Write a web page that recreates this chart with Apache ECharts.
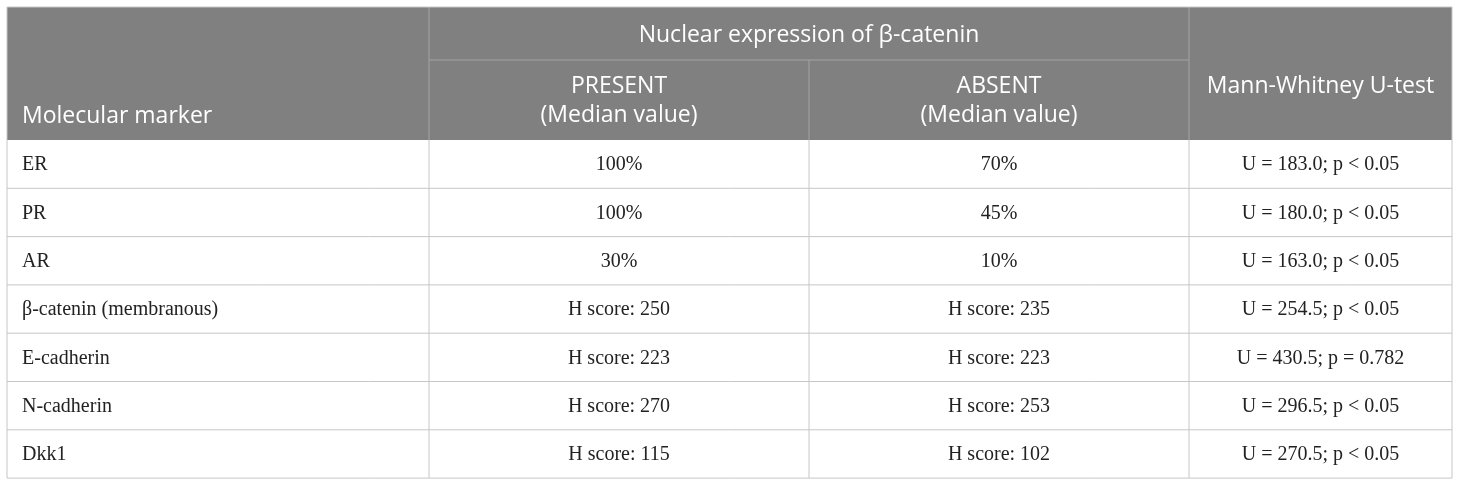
<!DOCTYPE html>
<html>
<head>
<meta charset="utf-8">
<script src="https://cdn.jsdelivr.net/npm/echarts@6/dist/echarts.min.js"></script>
<style>
  html, body { margin: 0; padding: 0; background: #fff; }
  #main { width: 1460px; height: 486px; }
</style>
</head>
<body>
<div id="main"></div>
<script>
// table content
var groupTitle = 'Nuclear expression of \u03b2-catenin';
var headers = ['Molecular marker', 'PRESENT\n(Median value)', 'ABSENT\n(Median value)', 'Mann-Whitney U-test'];
var markers = ['ER', 'PR', 'AR', '\u03b2-catenin (membranous)', 'E-cadherin', 'N-cadherin', 'Dkk1'];
var present = ['100%', '100%', '30%', 'H score: 250', 'H score: 223', 'H score: 270', 'H score: 115'];
var absent = ['70%', '45%', '10%', 'H score: 235', 'H score: 223', 'H score: 253', 'H score: 102'];
var utest = ['U = 183.0; p < 0.05', 'U = 180.0; p < 0.05', 'U = 163.0; p < 0.05', 'U = 254.5; p < 0.05',
  'U = 430.5; p = 0.782', 'U = 296.5; p < 0.05', 'U = 270.5; p < 0.05'];

// layout
var colX = [7, 429, 809, 1189, 1452];
var top0 = 7, head1 = 60, headEnd = 140, rowH = 48.3;
var headFill = '#808080', headLine = '#a3a3a3', bodyLine = '#c6c6c6';
var headFont = '"Open Sans", sans-serif', bodyFont = '"Liberation Serif", "Times New Roman", serif';
var headSize = 23, bodySize = 20;

var myChart = echarts.init(document.getElementById('main'));
var g = [];

// header background
g.push({ type: 'rect', shape: { x: colX[0], y: top0, width: colX[4] - colX[0], height: headEnd - top0 },
  style: { fill: headFill } });

function line(x1, y1, x2, y2, c) {
  g.push({ type: 'line', shape: { x1: x1, y1: y1, x2: x2, y2: y2 }, style: { stroke: c, lineWidth: 1 }, z: 5 });
}

// header lines
line(colX[1], top0, colX[1], headEnd, headLine);
line(colX[3], top0, colX[3], headEnd, headLine);
line(colX[2], head1, colX[2], headEnd, headLine);
line(colX[1], head1, colX[3], head1, headLine);

// header texts
g.push({ type: 'text', x: (colX[1] + colX[3]) / 2, y: (top0 + head1) / 2 + 2,
  style: { text: groupTitle, fill: '#fff', font: headSize + 'px ' + headFont, align: 'center', verticalAlign: 'middle' }, z: 6 });
g.push({ type: 'text', x: colX[0] + 15, y: 116,
  style: { text: headers[0], fill: '#fff', font: headSize + 'px ' + headFont, align: 'left', verticalAlign: 'middle' }, z: 6 });
for (var c = 1; c < 4; c++) {
  g.push({ type: 'text', x: (colX[c] + colX[c + 1]) / 2, y: 72,
    style: { text: headers[c], fill: '#fff', font: headSize + 'px ' + headFont, lineHeight: 29,
      align: 'center', verticalAlign: 'top' }, z: 6 });
}

// body
var bottom = headEnd + rowH * markers.length;
for (var r = 0; r < markers.length; r++) {
  var y0 = headEnd + rowH * r, ym = y0 + rowH / 2 + 1;
  if (r > 0) line(colX[0], y0, colX[4], y0, bodyLine);
  var cells = [markers[r], present[r], absent[r], utest[r]];
  for (var k = 0; k < 4; k++) {
    g.push({ type: 'text',
      x: k === 0 ? colX[0] + 15 : (colX[k] + colX[k + 1]) / 2, y: ym,
      style: { text: cells[k], fill: '#222', font: bodySize + 'px ' + bodyFont,
        align: k === 0 ? 'left' : 'center', verticalAlign: 'middle' }, z: 6 });
  }
}
for (var c2 = 1; c2 < 4; c2++) line(colX[c2], headEnd, colX[c2], bottom, bodyLine);
line(colX[0], top0, colX[0], bottom, bodyLine);
line(colX[4], top0, colX[4], bottom, bodyLine);
line(colX[0], bottom, colX[4], bottom, bodyLine);
line(colX[0], top0, colX[4], top0, bodyLine);

myChart.setOption({ animation: false, graphic: { elements: g } });
</script>
</body>
</html>
